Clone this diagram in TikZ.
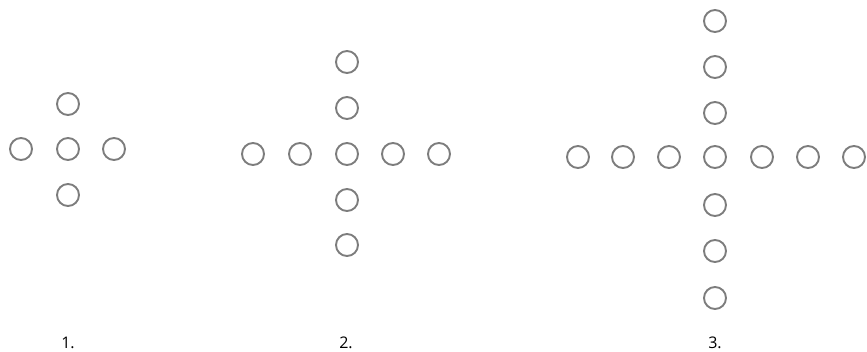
\documentclass[tikz,border=0pt]{standalone}
\usepackage{fontspec}
\setmainfont{Open Sans}
\definecolor{ringgray}{RGB}{125,125,125}
\begin{document}
\begin{tikzpicture}[x=1pt,y=-1pt,
  ring/.style={circle,draw=ringgray,line width=1.9pt,minimum size=22pt,inner sep=0pt},
  numlabel/.style={font=\fontsize{16}{18}\selectfont,text=black,inner sep=0pt}]
\useasboundingbox (0,0) rectangle (867,351);
% figure 1
\node[ring] (a1) at (68,104) {};
\node[ring] (a2) at (21,149) {};
\node[ring] (a3) at (68,149) {};
\node[ring] (a4) at (114,149) {};
\node[ring] (a5) at (68,195) {};
% figure 2
\foreach \x [count=\i] in {253,300,347,393,439} {\node[ring] (bh\i) at (\x,154) {};}
\node[ring] (bv1) at (347,62) {};
\node[ring] (bv2) at (347,108) {};
\node[ring] (bv4) at (347,200) {};
\node[ring] (bv5) at (347,245) {};
% figure 3
\foreach \x [count=\i] in {578,623,669,715,762,808,854} {\node[ring] (ch\i) at (\x,157) {};}
\node[ring] (cv1) at (715,21) {};
\node[ring] (cv2) at (715,67) {};
\node[ring] (cv3) at (715,113) {};
\node[ring] (cv5) at (715,205) {};
\node[ring] (cv6) at (715,251) {};
\node[ring] (cv7) at (715,298) {};
% labels
\node[numlabel] (l1) at (68,343) {1.};
\node[numlabel] (l2) at (346,343) {2.};
\node[numlabel] (l3) at (715,343) {3.};
\end{tikzpicture}
\end{document}
